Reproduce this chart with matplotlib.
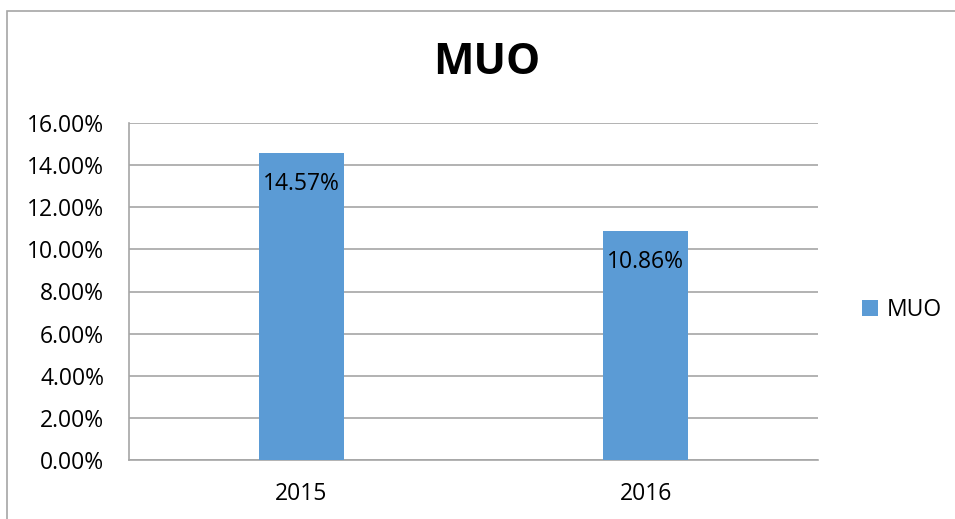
import matplotlib.pyplot as plt
from matplotlib.patches import Rectangle
from matplotlib.ticker import FuncFormatter
import numpy as np

plt.rcParams['font.family'] = ['Open Sans', 'DejaVu Sans']

years = ['2015', '2016']
muo = [14.57, 10.86]
bar_color = '#5b9bd5'
grid_color = '#a6a6a6'

fig = plt.figure(figsize=(9.55, 5.19), dpi=100)
ax = fig.add_axes([129 / 955, 1 - 460 / 519, (818 - 129) / 955, (460 - 123) / 519])

x = np.arange(len(years))
bars = ax.bar(x, muo, width=0.247, color=bar_color, label='MUO', zorder=3)
for xi, v in zip(x, muo):
    ax.annotate('%.2f%%' % v, (xi, v), xytext=(0, -22), textcoords='offset points',
                ha='center', va='center', fontsize=16.5, color='black', zorder=4)

ax.set_xlim(-0.5, 1.5)
ax.set_ylim(0, 16)
ax.set_yticks(np.arange(0, 17, 2))
ax.yaxis.set_major_formatter(FuncFormatter(lambda v, p: '%.2f%%' % v))
ax.set_xticks(x)
ax.set_xticklabels(years)
ax.tick_params(axis='both', length=0, labelsize=16.5)
ax.tick_params(axis='y', pad=18)
ax.tick_params(axis='x', pad=16)
ax.yaxis.grid(True, color=grid_color, linewidth=1.2, zorder=0)
for s in ['top', 'right']:
    ax.spines[s].set_visible(False)
for s in ['left', 'bottom']:
    ax.spines[s].set_color(grid_color)
    ax.spines[s].set_linewidth(1.2)

fig.text(487 / 955, 1 - 62 / 519, 'MUO', ha='center', va='center', fontsize=31, fontweight='bold')

fig.legend(handles=[bars], labels=['MUO'], loc='center left', bbox_to_anchor=(841 / 955, 1 - 310 / 519),
           frameon=False, fontsize=16.5, handlelength=0.7, handleheight=0.7, handletextpad=0.4)

fig.patches.append(Rectangle((7 / 955, -0.1), 1.2, 1.1 - 11 / 519, transform=fig.transFigure,
                             fill=False, edgecolor='#a6a6a6', linewidth=1.2))

fig.savefig('out.png', dpi=100)
